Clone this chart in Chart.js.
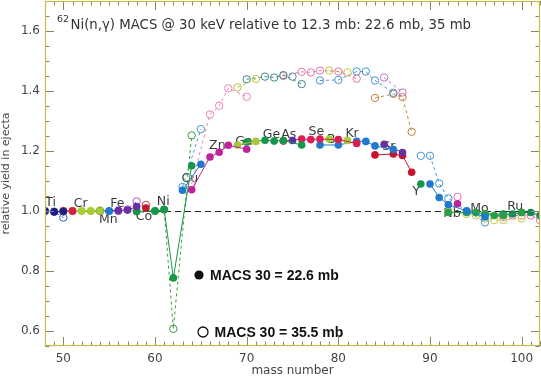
<!DOCTYPE html>
<html>
<head>
<meta charset="utf-8">
<script src="https://cdn.jsdelivr.net/npm/chart.js@4.4.0/dist/chart.umd.min.js"></script>
<style>
  html, body { margin: 0; padding: 0; background: #fff; }
</style>
</head>
<body>
<canvas id="c" width="541" height="378"></canvas>
<script>
// element order, one color per element
const elements = ['Ti','V','Cr','Mn','Fe','Co','Ni','Cu','Zn','Ga','Ge','As','Se','Br','Kr','Rb','Sr','Y','Zr','Nb','Mo','Ru'];

// isotopes: element, mass number, yield with MACS 22.6 mb, yield with MACS 35.5 mb
const isoElement = ['Ti','Ti','Ti','V','V','Cr','Cr','Cr','Cr','Mn','Fe','Fe','Fe','Fe','Co',
  'Ni','Ni','Ni','Ni','Ni','Cu','Cu','Zn','Zn','Zn','Zn','Zn','Ga','Ga',
  'Ge','Ge','Ge','Ge','Ge','As','Se','Se','Se','Se','Se','Se','Br','Br',
  'Kr','Kr','Kr','Kr','Kr','Kr','Rb','Rb','Sr','Sr','Sr','Sr','Y',
  'Zr','Zr','Zr','Zr','Zr','Nb','Mo','Mo','Mo','Mo','Mo','Mo','Mo',
  'Ru','Ru','Ru','Ru','Ru','Ru'];
const isoMass = [48,49,50,50,51,50,52,53,54,55,54,56,57,58,59,
  58,60,61,62,64,63,65,64,66,67,68,70,69,71,
  70,72,73,74,76,75,74,76,77,78,80,82,79,81,
  78,80,82,83,84,86,85,87,84,86,87,88,89,
  90,91,92,94,96,93,92,94,95,96,97,98,100,
  96,98,99,100,101,102];
const yield226 = [1.000,0.997,0.998,1.000,1.000,0.998,1.000,1.000,1.000,1.000,1.000,1.002,1.003,1.015,1.010,
  0.998,1.000,1.005,0.777,1.151,1.069,1.156,1.071,1.180,1.196,1.219,1.206,1.220,1.232,
  1.230,1.236,1.233,1.235,1.220,1.235,1.233,1.240,1.238,1.240,1.238,1.225,1.240,1.235,
  1.220,1.220,1.232,1.232,1.217,1.205,1.222,1.195,1.187,1.190,1.185,1.129,1.090,
  1.090,1.045,1.021,1.000,0.980,1.024,0.995,0.995,0.995,0.990,0.985,0.985,0.995,
  0.990,0.990,0.990,0.995,0.995,0.985];
const yield355 = [1.000,0.998,0.978,1.000,1.000,1.000,1.000,1.000,1.002,1.000,1.000,1.000,1.005,1.032,1.020,
  1.000,1.000,1.005,0.607,1.252,1.080,1.273,1.090,1.322,1.351,1.409,1.381,1.412,1.440,
  1.439,1.448,1.445,1.453,1.423,1.448,1.450,1.464,1.462,1.468,1.465,1.441,1.468,1.462,
  1.435,1.437,1.465,1.465,1.435,1.394,1.445,1.395,1.377,1.390,1.380,1.264,1.184,
  1.184,1.092,1.042,1.000,0.962,1.047,0.998,0.990,0.985,0.975,0.970,0.970,0.975,
  0.985,0.980,0.985,0.985,0.985,0.970];

// element labels written in the plot
const labelNames = ['Ti','Cr','Mn','Fe','Co','Ni','Cu','Zn','Ga','Ge','As','Se','Br','Kr','Sr','Y','Nb','Mo','Ru'];
const labelMass  = [48.6,51.9,54.9,55.9,58.8,60.9,63.8,66.8,69.7,72.7,74.6,77.6,79.5,81.5,85.5,88.5,92.4,95.4,99.3];
const labelYield = [1.029,1.025,0.972,1.025,0.980,1.031,1.108,1.216,1.230,1.255,1.255,1.264,1.238,1.258,1.214,1.063,0.991,1.008,1.013];

const xTicks = [50,60,70,80,90,100];
const yTicks = [0.6,0.8,1.0,1.2,1.4,1.6];

const fillColors = ['#1c1c8a','#d0223c','#a6cf34','#1f78c8','#6a2fa0','#c8142e','#15964a','#1f78c8','#c0229c','#a6c834','#15964a','#5c2fa0','#d81e52','#a6d034','#1f7acc','#6a2fa0','#c8142e','#15964a','#1f7acc','#c0229c','#2a9e48','#138a55'];
const openColors = ['#3454c4','#d84050','#b0d040','#3a88d0','#b050c8','#d03040','#3c9a40','#4494d4','#f080b4','#c4c438','#3a8888','#5a84a8','#e474a8','#c8c83a','#4494d4','#c070c8','#c4823a','#4494d4','#4494d4','#f070a8','#c8c83a','#e070b4'];

const datasets = [];
elements.forEach((el, k) => {
  const idx = isoElement.map((e, i) => e === el ? i : -1).filter(i => i >= 0);
  datasets.push({
    data: idx.map(i => ({ x: isoMass[i], y: yield226[i] })),
    showLine: true,
    borderColor: fillColors[k],
    borderWidth: 1,
    pointRadius: 3.8,
    pointBackgroundColor: fillColors[k],
    pointBorderColor: fillColors[k],
    pointBorderWidth: 0,
    order: 1
  });
  datasets.push({
    data: idx.map(i => ({ x: isoMass[i], y: yield355[i] })),
    showLine: true,
    borderColor: openColors[k],
    borderWidth: 1,
    borderDash: [3, 3],
    pointRadius: 3.7,
    pointBackgroundColor: 'rgba(0,0,0,0)',
    pointBorderColor: openColors[k],
    pointBorderWidth: 1,
    order: 2
  });
});

const frameColor = '#c6bd48';
const tickColor = '#8a8660';

// frame, inward ticks, dashed line at 1 and element labels
const decor = {
  id: 'decor',
  beforeDatasetsDraw(chart) {
    const { ctx, chartArea: a, scales: { x, y } } = chart;
    ctx.save();
    // reference line
    ctx.strokeStyle = '#222';
    ctx.lineWidth = 1;
    ctx.setLineDash([6, 4]);
    const y1 = Math.round(y.getPixelForValue(1.0)) + 0.5;
    ctx.beginPath(); ctx.moveTo(a.left, y1); ctx.lineTo(a.right, y1); ctx.stroke();
    ctx.setLineDash([]);
    // labels
    ctx.fillStyle = '#3a3a3a';
    ctx.font = '12.5px "DejaVu Sans"';
    ctx.textAlign = 'center';
    ctx.textBaseline = 'middle';
    labelNames.forEach((n, i) => {
      ctx.fillText(n, x.getPixelForValue(labelMass[i]), y.getPixelForValue(labelYield[i]));
    });
    ctx.restore();
  },
  afterDraw(chart) {
    const { ctx, chartArea: a, scales: { x, y } } = chart;
    ctx.save();
    ctx.lineWidth = 1;
    ctx.strokeStyle = tickColor;
    ctx.beginPath();
    for (let m = 48; m <= 102; m++) {
      const px = Math.round(x.getPixelForValue(m)) + 0.5;
      const len = m % 10 === 0 ? 9 : 4.5;
      ctx.moveTo(px, a.bottom); ctx.lineTo(px, a.bottom - len);
      ctx.moveTo(px, a.top); ctx.lineTo(px, a.top + len);
    }
    for (let k = 11; k <= 34; k++) {
      const v = k * 0.05;
      const py = Math.round(y.getPixelForValue(v)) + 0.5;
      const len = k % 4 === 0 ? 9 : 4.5;
      ctx.moveTo(a.left, py); ctx.lineTo(a.left + len, py);
      ctx.moveTo(a.right, py); ctx.lineTo(a.right - len, py);
    }
    ctx.stroke();
    ctx.strokeStyle = frameColor;
    ctx.lineWidth = 1.2;
    ctx.strokeRect(a.left + 0.5, a.top + 0.5, a.right - a.left - 1, a.bottom - a.top - 1);

    // title
    ctx.fillStyle = '#333';
    ctx.textAlign = 'left';
    ctx.textBaseline = 'alphabetic';
    ctx.font = '9.5px "DejaVu Sans"';
    ctx.fillText('62', 57, 22);
    ctx.font = '13.3px "DejaVu Sans"';
    ctx.fillText('Ni(n,\u03b3) MACS @ 30 keV relative to 12.3 mb: 22.6 mb, 35 mb', 70.5, 29);

    // legend
    ctx.fillStyle = '#111';
    ctx.beginPath(); ctx.arc(199, 275, 4.6, 0, Math.PI * 2); ctx.fill();
    ctx.strokeStyle = '#111';
    ctx.lineWidth = 1.3;
    ctx.beginPath(); ctx.arc(203, 332, 5, 0, Math.PI * 2); ctx.stroke();
    ctx.font = 'bold 14px "Liberation Sans"';
    ctx.textBaseline = 'middle';
    ctx.fillText('MACS 30 = 22.6 mb', 210, 276);
    ctx.fillText('MACS 30 = 35.5 mb', 214.5, 333);
    ctx.restore();
  }
};

new Chart(document.getElementById('c'), {
  type: 'scatter',
  data: { datasets: datasets },
  options: {
    responsive: false,
    animation: false,
    events: [],
    layout: { autoPadding: false, padding: { top: 1, right: 1, left: 0, bottom: 0 } },
    plugins: { legend: { display: false }, tooltip: { enabled: false } },
    scales: {
      x: {
        type: 'linear',
        min: 48,
        max: 102,
        grid: { display: false, drawTicks: false },
        border: { display: false },
        afterBuildTicks: s => { s.ticks = xTicks.map(v => ({ value: v })); },
        afterFit: s => { s.height = 32; s.paddingLeft = 0; s.paddingRight = 0; },
        ticks: { color: '#444', font: { family: 'DejaVu Sans', size: 12 }, padding: 6, maxRotation: 0 },
        title: { display: true, text: 'mass number', color: '#444', font: { family: 'DejaVu Sans', size: 12 }, padding: 0 }
      },
      y: {
        type: 'linear',
        min: 0.55,
        max: 1.7,
        grid: { display: false, drawTicks: false },
        border: { display: false },
        afterBuildTicks: s => { s.ticks = yTicks.map(v => ({ value: v })); },
        afterFit: s => { s.width = 45; s.paddingTop = 0; s.paddingBottom = 0; },
        ticks: { color: '#444', font: { family: 'DejaVu Sans', size: 12 }, padding: 5, callback: v => v.toFixed(1) },
        title: { display: true, text: 'relative yield in ejecta', color: '#444', font: { family: 'DejaVu Sans', size: 11 }, padding: 0 }
      }
    }
  },
  plugins: [decor]
});
</script>
</body>
</html>
